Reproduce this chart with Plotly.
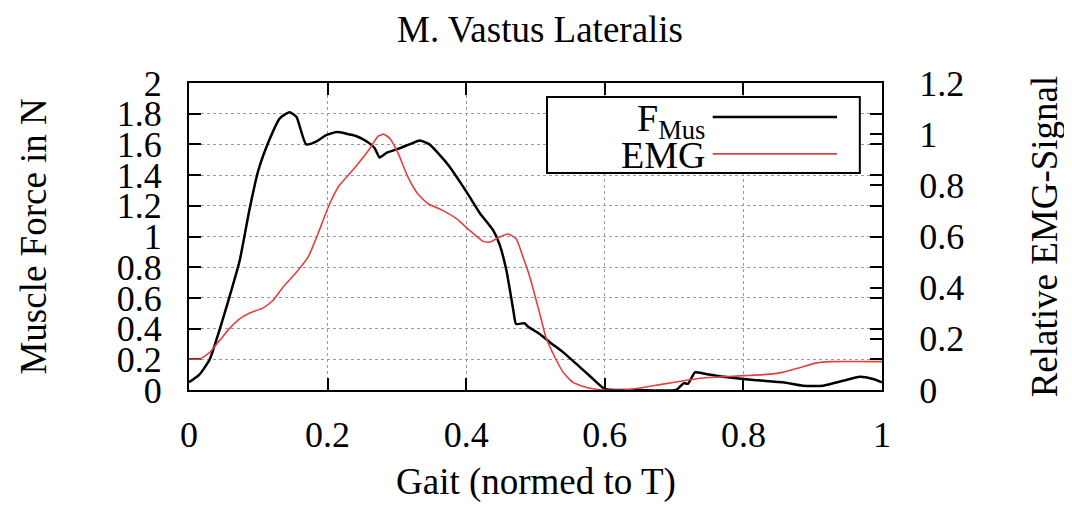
import plotly.graph_objects as go

# F_Mus (left axis, N)
fmus_x = [0, 0.015, 0.03, 0.044, 0.058, 0.073, 0.087, 0.10, 0.116, 0.131, 0.145, 0.155,
          0.169, 0.184, 0.198, 0.213, 0.227, 0.241, 0.256, 0.268, 0.275, 0.285, 0.304,
          0.318, 0.333, 0.347, 0.362, 0.376, 0.391, 0.405, 0.42, 0.439, 0.448, 0.458,
          0.468, 0.472, 0.484, 0.49, 0.506, 0.521, 0.54, 0.559, 0.578, 0.60, 0.65,
          0.703, 0.714, 0.72, 0.73, 0.742, 0.761, 0.78, 0.80, 0.829, 0.857, 0.886,
          0.915, 0.944, 0.968, 0.987, 1.0]
fmus_y = [0.05, 0.10, 0.20, 0.39, 0.60, 0.84, 1.17, 1.43, 1.63, 1.77, 1.81, 1.78,
          1.60, 1.62, 1.66, 1.68, 1.67, 1.655, 1.62, 1.575, 1.515, 1.545, 1.575,
          1.60, 1.625, 1.60, 1.53, 1.455, 1.356, 1.258, 1.15, 1.04, 0.95, 0.78,
          0.52, 0.43, 0.435, 0.41, 0.365, 0.31, 0.245, 0.17, 0.093, 0.007, 0.0,
          0.0, 0.045, 0.04, 0.115, 0.108, 0.093, 0.082, 0.072, 0.06, 0.05, 0.028,
          0.028, 0.06, 0.087, 0.072, 0.05]

# EMG (right axis, relative)
emg_x = [0, 0.015, 0.03, 0.044, 0.058, 0.073, 0.087, 0.107, 0.121, 0.135, 0.155, 0.172,
         0.186, 0.203, 0.217, 0.232, 0.246, 0.261, 0.273, 0.281, 0.29, 0.302, 0.316,
         0.33, 0.345, 0.366, 0.386, 0.405, 0.424, 0.434, 0.448, 0.46, 0.472, 0.482,
         0.492, 0.506, 0.515, 0.528, 0.54, 0.554, 0.574, 0.598, 0.63, 0.655, 0.684,
         0.713, 0.742, 0.771, 0.80, 0.829, 0.857, 0.882, 0.906, 0.925, 1.0]
emg_y = [0.121, 0.121, 0.147, 0.193, 0.239, 0.278, 0.30, 0.321, 0.35, 0.40, 0.46, 0.52,
         0.61, 0.728, 0.80, 0.846, 0.891, 0.944, 0.992, 1.0, 0.983, 0.924, 0.832,
         0.767, 0.728, 0.702, 0.67, 0.624, 0.582, 0.578, 0.598, 0.61, 0.591, 0.52,
         0.44, 0.30, 0.206, 0.128, 0.069, 0.03, 0.01, 0.0, 0.0, 0.01, 0.023,
         0.036, 0.047, 0.052, 0.056, 0.06, 0.069, 0.088, 0.106, 0.111, 0.111]

x_ticks = [0, 0.2, 0.4, 0.6, 0.8, 1]
x_ticktext = ["0", "0.2", "0.4", "0.6", "0.8", "1"]
y1_ticks = [0, 0.2, 0.4, 0.6, 0.8, 1, 1.2, 1.4, 1.6, 1.8, 2]
y1_ticktext = ["0", "0.2", "0.4", "0.6", "0.8", "1", "1.2", "1.4", "1.6", "1.8", "2"]
y2_ticks = [0, 0.2, 0.4, 0.6, 0.8, 1, 1.2]
y2_ticktext = ["0", "0.2", "0.4", "0.6", "0.8", "1", "1.2"]

FONT = "Liberation Serif, Times New Roman, serif"
RED = "#e2403f"

fig = go.Figure()
fig.add_trace(go.Scatter(x=fmus_x, y=fmus_y, mode="lines", name="F<sub>Mus</sub>",
                         line=dict(color="black", width=2.5, shape="spline", smoothing=0.5),
                         yaxis="y"))
fig.add_trace(go.Scatter(x=emg_x, y=emg_y, mode="lines", name="EMG",
                         line=dict(color=RED, width=1.6, shape="spline", smoothing=0.5),
                         yaxis="y2"))

axis_common = dict(showline=True, linecolor="black", linewidth=2, ticks="inside",
                   ticklen=12, tickwidth=1.5, tickcolor="black", layer="below traces",
                   tickfont=dict(family=FONT, size=36, color="black"), zeroline=False)

# page body has an 8px margin: figure is sized to the visible area
W, H = 1064, 497
fig.update_layout(
    width=W, height=H,
    margin=dict(l=181, r=190, t=75, b=115),
    paper_bgcolor="white", plot_bgcolor="white",
    showlegend=False,
    title=dict(text="M. Vastus Lateralis", x=0.5, xanchor="center", y=1 - 21 / H,
               yanchor="middle", font=dict(family=FONT, size=37, color="black")),
    xaxis=dict(range=[0, 1], tickvals=x_ticks, ticktext=x_ticktext, mirror="ticks",
               showgrid=True, gridcolor="#9a9a9a", griddash="dot", gridwidth=1.2,
               ticklabelstandoff=12, **axis_common),
    yaxis=dict(range=[0, 2], tickvals=y1_ticks, ticktext=y1_ticktext, mirror="ticks",
               showgrid=True, gridcolor="#9a9a9a", griddash="dot", gridwidth=1.2,
               ticklabelstandoff=18, **axis_common),
    yaxis2=dict(range=[0, 1.2], tickvals=y2_ticks, ticktext=y2_ticktext, overlaying="y",
                side="right", showgrid=False, ticklabelstandoff=28, **axis_common),
)

# axis titles
title_font = dict(family=FONT, size=37, color="black")
fig.add_annotation(text="Gait (normed to T)", xref="paper", yref="paper", x=0.5, y=-0.30,
                   xanchor="center", yanchor="middle", showarrow=False, font=title_font)
fig.add_annotation(text="Muscle Force in N", xref="paper", yref="paper", x=-0.225, y=0.5,
                   xanchor="center", yanchor="middle", textangle=-90, showarrow=False,
                   font=title_font)
fig.add_annotation(text="Relative EMG-Signal", xref="paper", yref="paper", x=1.235, y=0.5,
                   xanchor="center", yanchor="middle", textangle=-90, showarrow=False,
                   font=title_font)

# legend box (gnuplot style: text left, sample right)
fig.add_shape(type="rect", xref="paper", yref="paper", x0=0.5166, x1=0.968, y0=0.707,
              y1=0.954, line=dict(color="black", width=2), fillcolor="white", layer="above")
fig.add_shape(type="line", xref="paper", yref="paper", x0=0.7557, x1=0.9351, y0=0.889,
              y1=0.889, line=dict(color="black", width=2.5), layer="above")
fig.add_shape(type="line", xref="paper", yref="paper", x0=0.7557, x1=0.9351, y0=0.769,
              y1=0.769, line=dict(color=RED, width=1.6), layer="above")
fig.add_annotation(text="F<sub>Mus</sub>", xref="paper", yref="paper", x=0.7475, y=0.875,
                   xanchor="right", yanchor="middle", showarrow=False,
                   font=dict(family=FONT, size=38, color="black"))
fig.add_annotation(text="EMG", xref="paper", yref="paper", x=0.7475, y=0.765,
                   xanchor="right", yanchor="middle", showarrow=False,
                   font=dict(family=FONT, size=38, color="black"))

fig.write_html("out.html")
